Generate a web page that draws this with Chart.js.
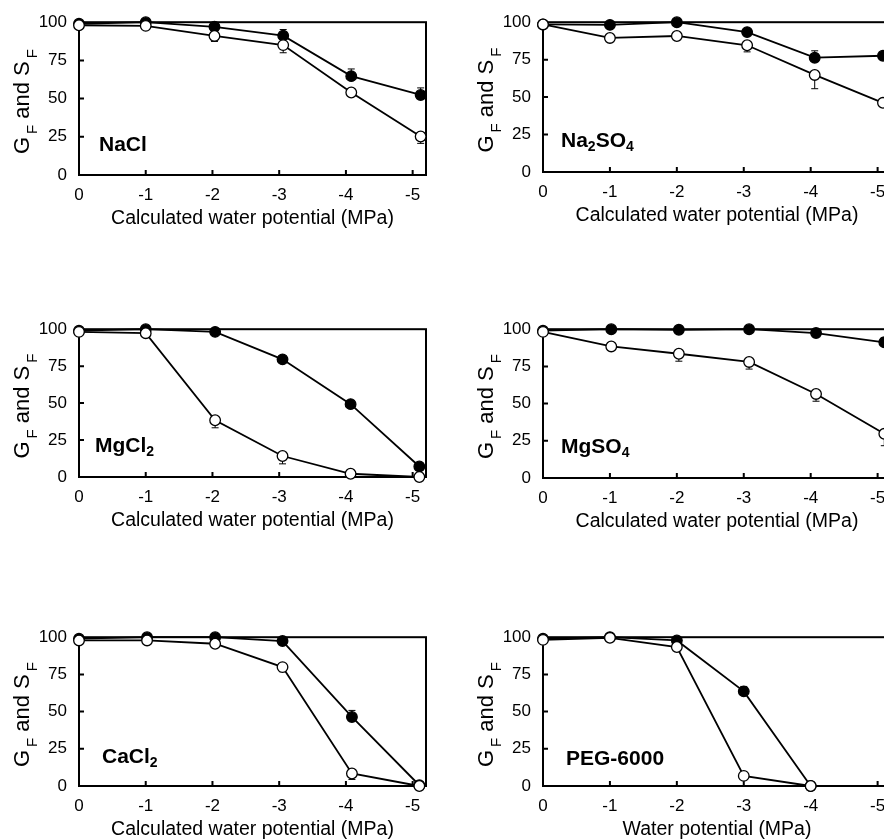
<!DOCTYPE html>
<html>
<head>
<meta charset="utf-8">
<script src="https://cdn.jsdelivr.net/npm/chart.js@4.4.1/dist/chart.umd.min.js"></script>
<style>
  html, body { margin: 0; padding: 0; background: #fff; overflow: hidden; width: 884px; height: 839px; position: relative; }
  canvas { position: absolute; }
</style>
</head>
<body>
<canvas id="c0"></canvas>
<canvas id="c1"></canvas>
<canvas id="c2"></canvas>
<canvas id="c3"></canvas>
<canvas id="c4"></canvas>
<canvas id="c5"></canvas>
<script>
var xTicks = [0, -1, -2, -3, -4, -5];
var yTicks = [0, 25, 50, 75, 100];

// NaCl
var naclX = [0, -1, -2.03, -3.06, -4.08, -5.12];
var naclFilled = [99, 100, 97, 91.2, 64.7, 52.4];
var naclFilledErr = [0, 0, 0, 4, 4.7, 4.6];
var naclOpen = [98, 97.6, 91, 85, 54, 25.2];
var naclOpenErr = [0, 0, 3.6, 5, 0, 4.5];

// Na2SO4
var na2so4X = [0, -1, -2, -3.05, -4.06, -5.08];
var na2so4Filled = [98.5, 98.2, 100, 93.4, 76.3, 77.6];
var na2so4FilledErr = [0, 0, 0, 0, 4.6, 0];
var na2so4Open = [98.5, 89.5, 90.8, 84.6, 64.8, 46.2];
var na2so4OpenErr = [0, 0, 1.5, 4.4, 9.2, 0];

// MgCl2
var mgcl2X = [0, -1, -2.04, -3.05, -4.07, -5.1];
var mgcl2Filled = [99, 100, 98.2, 79.6, 49.3, 7.1];
var mgcl2FilledErr = [0, 0, 0, 2.2, 2.3, 0];
var mgcl2Open = [98.2, 97.3, 38.4, 14.2, 2.2, 0];
var mgcl2OpenErr = [0, 0, 5.1, 5.3, 0, 0];

// MgSO4
var mgso4X = [0, -1.02, -2.03, -3.08, -4.08, -5.1];
var mgso4Filled = [99, 100, 99.6, 100, 97.4, 91.2];
var mgso4FilledErr = [0, 0, 0, 0, 0, 3];
var mgso4Open = [98.2, 88.4, 83.5, 78, 56.5, 29.7];
var mgso4OpenErr = [0, 0, 5, 4.8, 4.9, 8];

// CaCl2
var cacl2X = [0, -1.02, -2.04, -3.05, -4.09, -5.1];
var cacl2Filled = [99, 100, 100, 97.4, 46.4, 0.5];
var cacl2FilledErr = [0, 0, 0, 0, 4.4, 0];
var cacl2Open = [97.8, 97.8, 95.6, 79.9, 8.4, 0];
var cacl2OpenErr = [0, 0, 0, 3.1, 4, 0];

// PEG-6000
var pegX = [0, -1, -2, -3, -4];
var pegFilled = [99, 100, 97.8, 63.6, 0];
var pegFilledErr = [0, 0, 0, 3.3, 0];
var pegOpen = [98.2, 99.6, 93.4, 6.8, 0];
var pegOpenErr = [0, 0, 0, 0, 0];

// panel names, pieces flagged true are subscripts
var panelNames = [
  [['NaCl', false]],
  [['Na', false], ['2', true], ['SO', false], ['4', true]],
  [['MgCl', false], ['2', true]],
  [['MgSO', false], ['4', true]],
  [['CaCl', false], ['2', true]],
  [['PEG-6000', false]]
];
var xTitles = [
  'Calculated water potential (MPa)',
  'Calculated water potential (MPa)',
  'Calculated water potential (MPa)',
  'Calculated water potential (MPa)',
  'Calculated water potential (MPa)',
  'Water potential (MPa)'
];

var FONT = "'Liberation Sans', Arial, sans-serif";

var panels = [
  { x: naclX, f: naclFilled, fe: naclFilledErr, o: naclOpen, oe: naclOpenErr },
  { x: na2so4X, f: na2so4Filled, fe: na2so4FilledErr, o: na2so4Open, oe: na2so4OpenErr },
  { x: mgcl2X, f: mgcl2Filled, fe: mgcl2FilledErr, o: mgcl2Open, oe: mgcl2OpenErr },
  { x: mgso4X, f: mgso4Filled, fe: mgso4FilledErr, o: mgso4Open, oe: mgso4OpenErr },
  { x: cacl2X, f: cacl2Filled, fe: cacl2FilledErr, o: cacl2Open, oe: cacl2OpenErr },
  { x: pegX, f: pegFilled, fe: pegFilledErr, o: pegOpen, oe: pegOpenErr }
];

// where each panel sits on the page
var boxes = [
  { left: 0,   top: 0,   plotH: 155, axisW: 79, padR: 14, lx: 20, ly: 24 },
  { left: 460, top: 0,   plotH: 152, axisW: 83, padR: 9,  lx: 18, ly: 25 },
  { left: 0,   top: 307, plotH: 150, axisW: 79, padR: 14, lx: 16, ly: 25 },
  { left: 460, top: 307, plotH: 151, axisW: 83, padR: 9,  lx: 18, ly: 25 },
  { left: 0,   top: 615, plotH: 151, axisW: 79, padR: 14, lx: 23, ly: 23 },
  { left: 460, top: 615, plotH: 151, axisW: 83, padR: 9,  lx: 23, ly: 21 }
];

var framePlugin = {
  id: 'frame',
  beforeDatasetsDraw: function(chart) {
    var a = chart.chartArea, ctx = chart.ctx;
    var xs = chart.scales.x, ys = chart.scales.y;
    ctx.save();
    ctx.strokeStyle = '#000';
    ctx.lineWidth = 2;
    ctx.strokeRect(a.left, a.top, a.right - a.left, a.bottom - a.top);
    ctx.beginPath();
    xTicks.forEach(function(v) {
      var px = xs.getPixelForValue(v);
      ctx.moveTo(px, a.bottom); ctx.lineTo(px, a.bottom - 5);
    });
    yTicks.forEach(function(v) {
      var py = ys.getPixelForValue(v);
      ctx.moveTo(a.left, py); ctx.lineTo(a.left + 5, py);
    });
    ctx.stroke();

    // error bars: filled go up, open go down
    ctx.lineWidth = 1;
    ctx.beginPath();
    chart.data.datasets.forEach(function(ds) {
      ds.err.forEach(function(e, i) {
        if (!e) return;
        var pt = ds.data[i];
        var px = xs.getPixelForValue(pt.x);
        var y0 = ys.getPixelForValue(pt.y);
        var y1 = ys.getPixelForValue(pt.y + ds.errDir * e);
        ctx.moveTo(px, y0); ctx.lineTo(px, y1);
        ctx.moveTo(px - 3.5, y1); ctx.lineTo(px + 3.5, y1);
      });
    });
    ctx.stroke();
    ctx.restore();
  },
  afterDraw: function(chart) {
    var a = chart.chartArea, ctx = chart.ctx;
    var opt = chart.options.plugins.frame;
    ctx.save();
    ctx.fillStyle = '#000';
    ctx.textBaseline = 'alphabetic';

    // panel name
    var x = a.left + opt.lx, y = a.bottom - opt.ly;
    opt.name.forEach(function(p) {
      ctx.font = p[1] ? 'bold 14px ' + FONT : 'bold 21px ' + FONT;
      ctx.fillText(p[0], x, p[1] ? y + 4 : y);
      x += ctx.measureText(p[0]).width;
    });

    // y title: G_F and S_F
    var parts = [['G', false], ['F', true], [' and S', false], ['F', true]];
    ctx.translate(a.left - 56, (a.top + a.bottom) / 2 + 3);
    ctx.rotate(-Math.PI / 2);
    var total = 0;
    parts.forEach(function(p) {
      ctx.font = (p[1] ? '15px ' : '22px ') + FONT;
      total += ctx.measureText(p[0]).width + (p[1] ? 3 : 0);
    });
    var cx = -total / 2;
    ctx.textBaseline = 'middle';
    parts.forEach(function(p) {
      ctx.font = (p[1] ? '15px ' : '22px ') + FONT;
      if (p[1]) cx += 3;
      ctx.fillText(p[0], cx, p[1] ? 10 : 0);
      cx += ctx.measureText(p[0]).width;
    });
    ctx.restore();
  }
};

panels.forEach(function(p, k) {
  var b = boxes[k];
  var canvas = document.getElementById('c' + k);
  var h = 20 + b.plotH + 55;
  canvas.width = 440;
  canvas.height = h;
  canvas.style.left = b.left + 'px';
  canvas.style.top = b.top + 'px';

  var openData = p.x.map(function(v, i) { return { x: v, y: p.o[i] }; });
  var filledData = p.x.map(function(v, i) { return { x: v, y: p.f[i] }; });

  new Chart(canvas, {
    type: 'line',
    data: {
      datasets: [{
        label: 'open',
        data: openData,
        err: p.oe,
        errDir: -1,
        borderColor: '#000',
        borderWidth: 1.8,
        pointRadius: 5.3,
        pointBackgroundColor: '#fff',
        pointBorderColor: '#000',
        pointBorderWidth: 1.3,
        clip: false,
        tension: 0
      }, {
        label: 'filled',
        data: filledData,
        err: p.fe,
        errDir: 1,
        borderColor: '#000',
        borderWidth: 1.8,
        pointRadius: 5.3,
        pointBackgroundColor: '#000',
        pointBorderColor: '#000',
        pointBorderWidth: 1.3,
        clip: false,
        tension: 0
      }]
    },
    options: {
      responsive: false,
      animation: false,
      events: [],
      layout: { padding: { top: 20, left: 0, right: b.padR, bottom: 0 } },
      plugins: {
        legend: { display: false },
        tooltip: { enabled: false },
        frame: { name: panelNames[k], lx: b.lx, ly: b.ly }
      },
      scales: {
        x: {
          type: 'linear',
          reverse: true,
          min: -5.2,
          max: 0,
          grid: { display: false, drawTicks: false },
          border: { display: false },
          afterBuildTicks: function(s) { s.ticks = xTicks.map(function(v) { return { value: v }; }); },
          afterFit: function(s) { s.height = 55; },
          ticks: {
            autoSkip: false,
            maxRotation: 0,
            padding: 10,
            color: '#000',
            font: { family: FONT, size: 17 },
            callback: function(v) { return String(v); }
          },
          title: {
            display: true,
            text: xTitles[k],
            color: '#000',
            font: { family: FONT, size: 19.5 },
            padding: { top: 0, bottom: 0 }
          }
        },
        y: {
          min: 0,
          max: 100,
          grid: { display: false, drawTicks: false },
          border: { display: false },
          afterBuildTicks: function(s) { s.ticks = yTicks.map(function(v) { return { value: v }; }); },
          afterFit: function(s) { s.width = b.axisW; },
          ticks: {
            padding: 12,
            color: '#000',
            font: { family: FONT, size: 17 },
            callback: function(v) { return String(v); }
          }
        }
      }
    },
    plugins: [framePlugin]
  });
});
</script>
</body>
</html>
